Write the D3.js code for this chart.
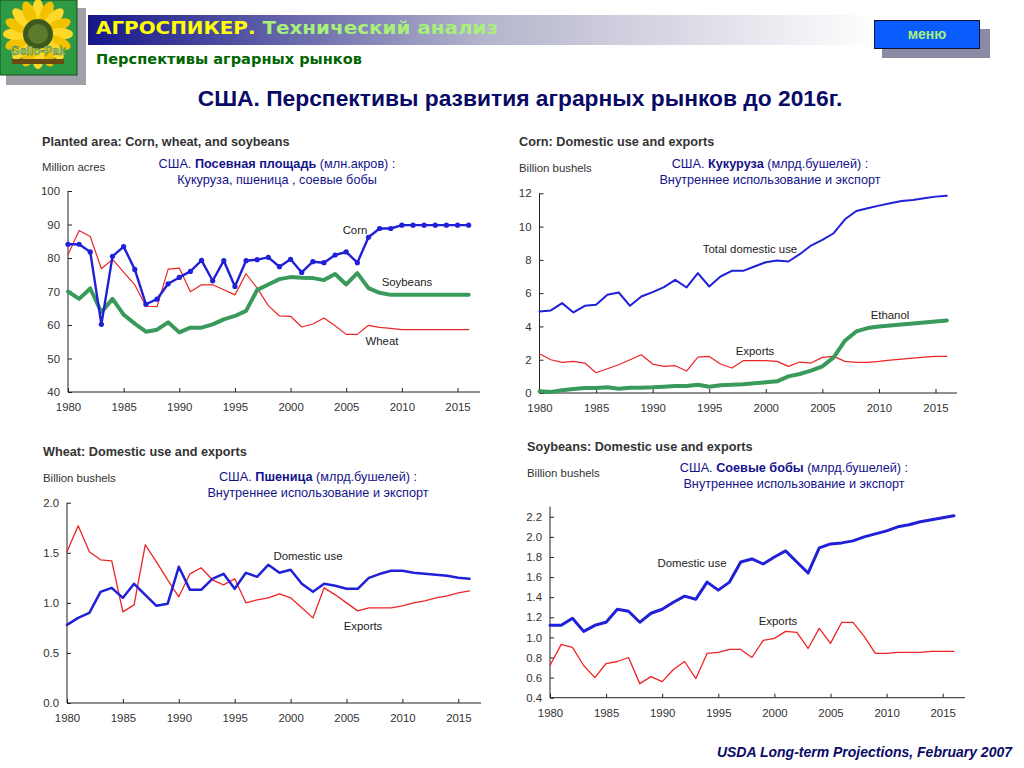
<!DOCTYPE html>
<html><head><meta charset="utf-8">
<script src="https://cdn.jsdelivr.net/npm/d3@7"></script>
<style>
html,body{margin:0;padding:0;background:#fff;}
svg{display:block;font-family:"Liberation Sans",Arial,sans-serif;}
</style></head><body>
<svg id="c" width="1024" height="768"></svg>
<script>
const years = d3.range(1980, 2017);
const xTicks = [1980,1985,1990,1995,2000,2005,2010,2015];

// Planted area (million acres)
const cornArea = [84.1,84.1,81.8,60.2,80.5,83.4,76.6,66.2,67.7,72.3,74.2,76.0,79.3,73.2,79.2,71.5,79.2,79.5,80.2,77.4,79.6,75.7,78.9,78.6,80.9,81.8,78.6,86.2,88.8,88.8,89.8,89.8,89.8,89.8,89.8,89.8,89.8];
const wheatArea = [81.0,88.2,86.4,76.8,79.6,75.8,72.0,65.6,65.5,76.7,77.0,69.9,72.0,72.0,70.5,69.0,75.3,71.0,65.8,62.7,62.6,59.4,60.3,62.1,59.8,57.2,57.2,59.9,59.3,59.0,58.6,58.6,58.6,58.6,58.6,58.6,58.6];
const soyArea = [70.0,67.8,70.9,63.8,67.8,63.1,60.4,58.0,58.6,60.8,57.8,59.2,59.2,60.2,61.7,62.7,64.2,70.5,72.1,73.7,74.3,74.1,74.0,73.4,75.2,72.1,75.5,71.0,69.6,69.0,69.0,69.0,69.0,69.0,69.0,69.0,69.0];
const areaTicks = [40,50,60,70,80,90,100];

// Corn domestic use and exports (billion bushels)
const cornDomestic = [4.90,4.96,5.40,4.84,5.24,5.30,5.90,6.04,5.24,5.80,6.06,6.36,6.80,6.34,7.20,6.40,7.00,7.34,7.34,7.60,7.86,7.96,7.90,8.34,8.86,9.20,9.60,10.44,10.94,11.10,11.26,11.40,11.54,11.60,11.70,11.80,11.86];
const cornExports = [2.36,2.00,1.84,1.90,1.80,1.22,1.46,1.70,2.00,2.30,1.74,1.60,1.64,1.32,2.16,2.20,1.74,1.50,1.94,1.94,1.94,1.90,1.60,1.86,1.80,2.14,2.20,1.90,1.84,1.84,1.90,1.98,2.04,2.10,2.16,2.20,2.20];
const cornEthanol = [0.10,0.06,0.16,0.24,0.30,0.30,0.34,0.26,0.32,0.32,0.34,0.38,0.42,0.42,0.50,0.38,0.46,0.50,0.52,0.58,0.64,0.70,1.00,1.14,1.34,1.60,2.14,3.14,3.70,3.90,4.00,4.06,4.12,4.18,4.24,4.30,4.36];
const cornTicks = [0,2,4,6,8,10,12];

// Wheat domestic use and exports (billion bushels)
const wheatDomestic = [0.78,0.85,0.90,1.11,1.15,1.05,1.19,1.08,0.97,0.99,1.36,1.13,1.13,1.24,1.29,1.14,1.30,1.26,1.38,1.30,1.33,1.19,1.11,1.19,1.17,1.14,1.14,1.25,1.29,1.32,1.32,1.30,1.29,1.28,1.27,1.25,1.24];
const wheatExports = [1.51,1.77,1.51,1.43,1.42,0.91,0.98,1.58,1.41,1.23,1.06,1.29,1.35,1.23,1.18,1.24,1.00,1.03,1.05,1.09,1.05,0.95,0.85,1.15,1.08,1.00,0.92,0.95,0.95,0.95,0.97,1.00,1.02,1.05,1.07,1.10,1.12];
const wheatTicks = [0.0,0.5,1.0,1.5,2.0];

// Soybeans domestic use and exports (billion bushels)
const soyDomestic = [1.12,1.12,1.19,1.06,1.12,1.15,1.28,1.26,1.15,1.24,1.28,1.35,1.41,1.38,1.55,1.47,1.55,1.75,1.78,1.73,1.80,1.86,1.75,1.64,1.89,1.93,1.94,1.96,2.00,2.03,2.06,2.10,2.12,2.15,2.17,2.19,2.21];
const soyExports = [0.72,0.93,0.90,0.72,0.60,0.74,0.76,0.80,0.54,0.61,0.56,0.68,0.76,0.59,0.84,0.85,0.88,0.88,0.80,0.97,0.99,1.06,1.05,0.89,1.09,0.94,1.15,1.15,1.01,0.84,0.84,0.85,0.85,0.85,0.86,0.86,0.86];
const soyTicks = [0.4,0.6,0.8,1.0,1.2,1.4,1.6,1.8,2.0,2.2];

const BLUE = "#2020d8", RED = "#ee2424", GREEN = "#3a9a5c";
const svg = d3.select("#c");

// ---------- header ----------
const defs = svg.append("defs");
const grad = defs.append("linearGradient").attr("id","hdr").attr("x1","0").attr("x2","1");
grad.append("stop").attr("offset","0").attr("stop-color","#16168a");
grad.append("stop").attr("offset","0.5").attr("stop-color","#b4b4cc");
grad.append("stop").attr("offset","1").attr("stop-color","#ffffff");
svg.append("rect").attr("x",88).attr("y",15).attr("width",790).attr("height",30).attr("fill","url(#hdr)");

// logo
svg.append("rect").attr("x",6).attr("y",8).attr("width",80).attr("height",77).attr("fill","#a0a0a8");
svg.append("rect").attr("x",0).attr("y",0).attr("width",77).attr("height",75).attr("fill","#2f9a45").attr("stroke","#1a4a1a").attr("stroke-width",1);
const logo = svg.append("g").attr("transform","translate(38,34)");
d3.range(16).forEach(i=>{
  logo.append("ellipse").attr("cx",0).attr("cy",-22).attr("rx",6).attr("ry",13)
    .attr("fill", i%2 ? "#f2c200" : "#ffd92a").attr("transform",`rotate(${i*22.5})`);
});
logo.append("circle").attr("r",15).attr("fill","#3d5a1e");
logo.append("circle").attr("r",10).attr("fill","#5d7a2e");
svg.append("text").attr("x",38).attr("y",55).attr("text-anchor","middle").attr("font-size",12).attr("font-weight","bold")
  .attr("fill","#9fd08a").attr("stroke","#2a6a2a").attr("stroke-width",0.4).text("Gello-Pak");
svg.append("rect").attr("x",12).attr("y",59).attr("width",52).attr("height",5).attr("fill","#6a4a10");

const h1 = svg.append("text").attr("x",96).attr("y",34).attr("font-size",18).attr("font-weight","900")
  .attr("font-family","DejaVu Sans, sans-serif").attr("textLength",402).attr("lengthAdjust","spacingAndGlyphs");
h1.append("tspan").attr("fill","#ffff00").text("АГРОСПИКЕР. ");
h1.append("tspan").attr("fill","#a8f07a").text("Технический анализ");
svg.append("text").attr("x",96).attr("y",64).attr("font-size",13.5).attr("font-weight","bold").attr("fill","#006600")
  .attr("font-family","DejaVu Sans, sans-serif").attr("textLength",266).attr("lengthAdjust","spacingAndGlyphs").text("Перспективы аграрных рынков");

// menu button
svg.append("rect").attr("x",882).attr("y",29).attr("width",108).attr("height",29).attr("fill","#8a8aa2");
svg.append("rect").attr("x",874.5).attr("y",20.5).attr("width",105).attr("height",28).attr("fill","#0a5cff").attr("stroke","#111133").attr("stroke-width",1);
svg.append("text").attr("x",927).attr("y",39).attr("text-anchor","middle").attr("font-size",14).attr("font-weight","bold").attr("fill","#a8f07a").text("меню");

svg.append("text").attr("x",520).attr("y",106).attr("text-anchor","middle").attr("font-size",22.8).attr("font-weight","bold").attr("fill","#0a0a66")
  .text("США. Перспективы развития аграрных рынков до 2016г.");

svg.append("text").attr("x",1012).attr("y",757).attr("text-anchor","end").attr("font-size",14).attr("font-weight","bold").attr("font-style","italic")
  .attr("fill","#0a0a66").text("USDA Long-term Projections, February 2007");

// ---------- chart helper ----------
function chart(cfg){
  const g = svg.append("g");
  const x = d3.scaleLinear().domain([1980,2015]).range([cfg.x0, cfg.x1]);
  const y = d3.scaleLinear().domain(cfg.yDomain).range([cfg.yBottom, cfg.yTop]);
  const yTopPx = y(cfg.yDomain[1]);
  g.append("line").attr("x1",cfg.x0).attr("x2",cfg.x0).attr("y1",cfg.yBottom).attr("y2",yTopPx).attr("stroke","#222").attr("stroke-width",1);
  g.append("line").attr("x1",cfg.x0).attr("x2",cfg.xEnd).attr("y1",cfg.yBottom).attr("y2",cfg.yBottom).attr("stroke","#222").attr("stroke-width",1);
  const ya = d3.axisRight(y).tickValues(cfg.yTicks).tickSize(4).tickFormat(cfg.fmt);
  const yg = g.append("g").attr("transform",`translate(${cfg.x0},0)`).call(ya);
  yg.select(".domain").remove();
  yg.selectAll("line").attr("stroke","#222");
  yg.selectAll("text").attr("x",-8).attr("text-anchor","end").attr("font-size",11.4).attr("fill","#333").attr("font-family","Liberation Sans, Arial");
  const xa = d3.axisTop(x).tickValues(xTicks).tickSize(4).tickFormat(d3.format("d"));
  const xg = g.append("g").attr("transform",`translate(0,${cfg.yBottom})`).call(xa);
  xg.select(".domain").remove();
  xg.selectAll("line").attr("stroke","#222");
  xg.selectAll("text").attr("y",16).attr("dy","0.25em").attr("font-size",11.4).attr("fill","#333").attr("font-family","Liberation Sans, Arial");
  g.append("text").attr("x",cfg.tx).attr("y",cfg.ty).attr("font-size",12.7).attr("font-weight","bold").attr("fill","#333").text(cfg.title);
  g.append("text").attr("x",cfg.tx).attr("y",cfg.uy).attr("font-size",11.4).attr("fill","#333").text(cfg.unit);
  const r1 = g.append("text").attr("x",cfg.rx).attr("y",cfg.ry).attr("text-anchor","middle").attr("font-size",12.7).attr("fill","#14148a");
  r1.append("tspan").text("США. ");
  r1.append("tspan").attr("font-weight","bold").text(cfg.rBold);
  r1.append("tspan").text(cfg.rRest);
  g.append("text").attr("x",cfg.rx).attr("y",cfg.ry+15.5).attr("text-anchor","middle").attr("font-size",12.7).attr("fill","#14148a").text(cfg.rLine2);
  cfg.series.forEach(s=>{
    const line = d3.line().x((d,i)=>x(years[i])).y(d=>y(d));
    g.append("path").datum(s.values).attr("d",line).attr("fill","none").attr("stroke",s.color)
      .attr("stroke-width",s.width).attr("stroke-linejoin","round").attr("stroke-linecap","round");
    if(s.dots){
      g.selectAll(null).data(s.values).enter().append("circle")
        .attr("cx",(d,i)=>x(years[i])).attr("cy",d=>y(d)).attr("r",2.6).attr("fill",s.color);
    }
  });
  cfg.labels.forEach(l=>{
    g.append("text").attr("x",l[1]).attr("y",l[2]).attr("text-anchor","middle").attr("font-size",11.4).attr("fill","#222").text(l[0]);
  });
}

chart({x0:68,x1:457.5,xEnd:480,yBottom:392,yTop:191,yDomain:[40,100],yTicks:areaTicks,fmt:d3.format("d"),
  tx:42,ty:146,uy:171,title:"Planted area: Corn, wheat, and soybeans",unit:"Million acres",
  rx:277,ry:168,rBold:"Посевная площадь",rRest:" (млн.акров) :",rLine2:"Кукуруза, пшеница , соевые бобы",
  series:[{values:wheatArea,color:RED,width:1.2},{values:soyArea,color:GREEN,width:4},{values:cornArea,color:BLUE,width:2.4,dots:true}],
  labels:[["Corn",355,234],["Soybeans",407,286],["Wheat",382,345]]});

chart({x0:539.5,x1:935.5,xEnd:957,yBottom:393,yTop:193.3,yDomain:[0,12],yTicks:cornTicks,fmt:d3.format("d"),
  tx:519,ty:146,uy:172,title:"Corn: Domestic use and exports",unit:"Billion bushels",
  rx:770,ry:168,rBold:"Кукуруза",rRest:"  (млрд.бушелей) :",rLine2:"Внутреннее использование и экспорт",
  series:[{values:cornExports,color:RED,width:1.2},{values:cornEthanol,color:GREEN,width:4},{values:cornDomestic,color:BLUE,width:2}],
  labels:[["Total domestic use",750,253],["Ethanol",890,319],["Exports",755,355]]});

chart({x0:67,x1:458.3,xEnd:481,yBottom:703,yTop:502.7,yDomain:[0,2],yTicks:wheatTicks,fmt:d3.format(".1f"),
  tx:43,ty:456,uy:482,title:"Wheat: Domestic use and exports",unit:"Billion bushels",
  rx:318,ry:481,rBold:"Пшеница",rRest:"  (млрд.бушелей) :",rLine2:"Внутреннее использование и экспорт",
  series:[{values:wheatExports,color:RED,width:1.3},{values:wheatDomestic,color:BLUE,width:2.5}],
  labels:[["Domestic use",308,560],["Exports",363,630]]});

chart({x0:550,x1:942.7,xEnd:965,yBottom:697.7,yTop:506.7,yDomain:[0.4,2.3],yTicks:soyTicks,fmt:d3.format(".1f"),
  tx:527,ty:451,uy:477,title:"Soybeans: Domestic use and exports",unit:"Billion bushels",
  rx:794,ry:472,rBold:"Соевые бобы",rRest:"  (млрд.бушелей) :",rLine2:"Внутреннее использование и экспорт",
  series:[{values:soyExports,color:RED,width:1.3},{values:soyDomestic,color:BLUE,width:3}],
  labels:[["Domestic use",692,567],["Exports",778,625]]});
</script>
</body></html>
